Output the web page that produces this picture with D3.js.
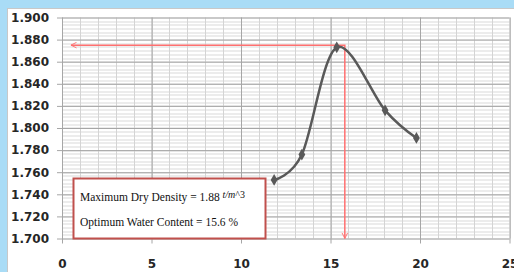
<!DOCTYPE html>
<html>
<head>
<meta charset="utf-8">
<script src="https://cdn.jsdelivr.net/npm/d3@7"></script>
<style>
	html, body { margin: 0; padding: 0; background: #a9dcf6; }
	#holder { width: 514px; height: 272px; position: relative; }
	.tick-label { font-family: "DejaVu Sans", sans-serif; font-weight: bold; font-size: 12px; fill: #262626; }
	.note { font-family: "Liberation Serif", "Times New Roman", serif; font-size: 11.5px; fill: #111; }
</style>
</head>
<body>
<div id="holder"><svg id="chart"></svg></div>
<script>
// compaction test values
const waterContent = [11.85, 13.4, 15.35, 18.05, 19.8]
const dryDensity = [1.753, 1.776, 1.873, 1.816, 1.791]

const xTicks = [0, 5, 10, 15, 20, 25]
const yTicks = [1.700, 1.720, 1.740, 1.760, 1.780, 1.800, 1.820, 1.840, 1.860, 1.880, 1.900]

// optimum (red guide lines)
const optWater = 15.8
const optDensity = 1.875

const viewWidth = 514
const viewHeight = 272
const margin = { left: 62, top: 17.5 }
const width = 447.5
const height = 221

const svg = d3.select("#chart")
	.attr("width", viewWidth)
	.attr("height", viewHeight)

// white chart area inside the blue frame
svg.append("rect")
	.attr("x", 7.5).attr("y", 8.5)
	.attr("width", viewWidth - 7).attr("height", viewHeight - 8)
	.attr("fill", "#fff")
	.attr("stroke", "#c8c8c8")

const g = svg.append("g")
	.attr("transform", "translate(" + margin.left + "," + margin.top + ")")

const x = d3.scaleLinear().domain([0, 25]).range([0, width])
const y = d3.scaleLinear().domain([1.7, 1.9]).range([height, 0])

// minor grid
const xMinor = d3.range(0, 26, 1)
const yMinor = d3.range(0, 61).map(i => 1.7 + i * 0.2 / 60)

g.append("g").selectAll("line")
	.data(yMinor)
	.enter().append("line")
	.attr("x1", 0).attr("x2", width)
	.attr("y1", d => Math.round(y(d)) + 0.5).attr("y2", d => Math.round(y(d)) + 0.5)
	.attr("stroke", "#d9d9d9")

g.append("g").selectAll("line")
	.data(xMinor)
	.enter().append("line")
	.attr("x1", d => Math.round(x(d)) + 0.5).attr("x2", d => Math.round(x(d)) + 0.5)
	.attr("y1", 0).attr("y2", height)
	.attr("stroke", "#d4d4d4")

// major grid + labels via axes
const yAxis = g.append("g")
	.attr("transform", "translate(-5,0)")
	.call(d3.axisLeft(y).tickValues(yTicks).tickFormat(d3.format(".3f")).tickSizeInner(-(width + 5)).tickSizeOuter(0).tickPadding(8))
yAxis.select(".domain").remove()
yAxis.selectAll(".tick line").attr("stroke", "#a6a6a6")
yAxis.selectAll(".tick text").attr("class", "tick-label").attr("x", -8)

const xAxis = g.append("g")
	.attr("transform", "translate(0," + (height + 5) + ")")
	.call(d3.axisTop(x).tickValues(xTicks).tickSizeInner(height + 5).tickSizeOuter(0).tickPadding(0))
xAxis.select(".domain").remove()
xAxis.selectAll(".tick line").attr("stroke", "#a6a6a6")
xAxis.selectAll(".tick text").attr("class", "tick-label").attr("y", 16).attr("dy", "0.71em")

// arrow markers (open chevrons)
const defs = svg.append("defs")
defs.append("marker")
	.attr("id", "arrow")
	.attr("viewBox", "0 0 10 10")
	.attr("refX", 9).attr("refY", 5)
	.attr("markerWidth", 7).attr("markerHeight", 7)
	.attr("markerUnits", "userSpaceOnUse")
	.attr("orient", "auto-start-reverse")
	.append("path")
	.attr("d", "M1,1 L9,5 L1,9")
	.attr("fill", "none")
	.attr("stroke", "#ff6f6f")
	.attr("stroke-width", 1.3)

// red guide lines
g.append("path")
	.attr("d", "M" + x(optWater) + "," + y(1.7) + " L" + x(optWater) + "," + y(optDensity) + " L" + x(0.5) + "," + y(optDensity))
	.attr("fill", "none")
	.attr("stroke", "#ff7070")
	.attr("stroke-width", 1.5)
	.attr("marker-start", "url(#arrow)")
	.attr("marker-end", "url(#arrow)")

// compaction curve
const pts = waterContent.map((w, i) => [w, dryDensity[i]])
const line = d3.line()
	.x(d => x(d[0]))
	.y(d => y(d[1]))
	.curve(d3.curveCardinal.tension(0))

g.append("path")
	.datum(pts)
	.attr("d", line)
	.attr("fill", "none")
	.attr("stroke", "#595959")
	.attr("stroke-width", 2.5)

g.selectAll("mydots")
	.data(pts)
	.enter().append("path")
	.attr("transform", d => "translate(" + x(d[0]) + "," + y(d[1]) + ")")
	.attr("d", d3.symbol(d3.symbolDiamond, 40))
	.attr("fill", "#595959")

// note box
const box = svg.append("g")
box.append("rect")
	.attr("x", 73.5).attr("y", 178.5)
	.attr("width", 192).attr("height", 60)
	.attr("fill", "#fff")
	.attr("stroke", "#c0504d")
	.attr("stroke-width", 2)

const t1 = box.append("text").attr("class", "note").attr("x", 80).attr("y", 200.5)
t1.append("tspan").text("Maximum Dry Density = 1.88 ")
t1.append("tspan").attr("dy", -3).attr("font-size", 10).attr("font-style", "italic").text("t/m")
t1.append("tspan").attr("font-size", 10).text("^3")

box.append("text").attr("class", "note").attr("x", 80).attr("y", 226)
	.text("Optimum Water Content = 15.6 %")
</script>
</body>
</html>
